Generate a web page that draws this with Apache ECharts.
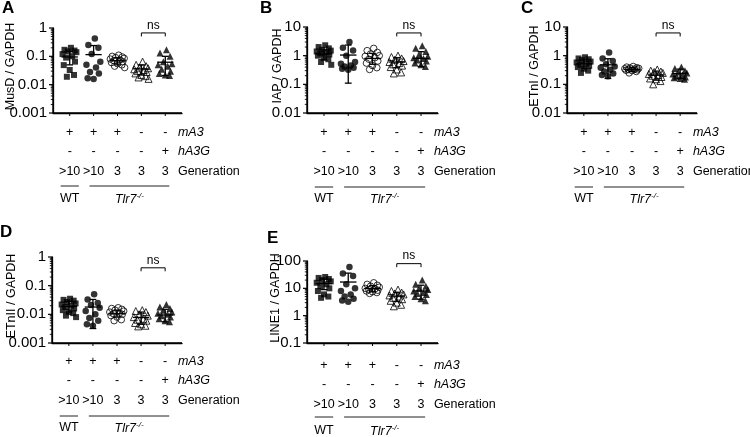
<!DOCTYPE html>
<html><head><meta charset="utf-8">
<script src="https://cdn.jsdelivr.net/npm/echarts@6/dist/echarts.min.js"></script>
<style>html,body{margin:0;padding:0;background:#fff}#c{width:750px;height:437px}</style>
</head><body><div id="c"></div>
<script>
// ---- categories / labels ----
const MA3 = ['+', '+', '+', '-', '-'];
const HA3G = ['-', '-', '-', '-', '+'];
const GENERATION = ['>10', '>10', '3', '3', '3'];
const ROW_NAMES = ['mA3', 'hA3G', 'Generation'];
const GENOTYPES = ['WT', 'Tlr7', '-/-'];
const SIG_LABEL = 'ns';
const PANEL_KEYS = ['A', 'B', 'C', 'D', 'E'];
const Y_TITLES = ['MusD / GAPDH', 'IAP / GAPDH', 'ETnI / GAPDH', 'ETnII / GAPDH', 'LINE1 / GAPDH'];

// ---- tick labels ----
const TICKS_MUSD = ['0.001', '0.01', '0.1', '1'];
const TICKS_IAP = ['0.01', '0.1', '1', '10'];
const TICKS_ETNI = ['0.01', '0.1', '1', '10'];
const TICKS_ETNII = ['0.001', '0.01', '0.1', '1'];
const TICKS_LINE1 = ['0.1', '1', '10', '100'];

// ---- values (per group: WT, Tlr7 >10, Tlr7 3, Tlr7 3, Tlr7 3 + hA3G) ----
const MUSD = [
  [0.2, 0.17, 0.16, 0.15, 0.14, 0.12, 0.1, 0.09, 0.065, 0.049, 0.033, 0.022, 0.019],
  [0.43, 0.25, 0.2, 0.12, 0.065, 0.05, 0.04, 0.028, 0.025, 0.017, 0.016],
  [0.11, 0.1, 0.095, 0.09, 0.085, 0.08, 0.075, 0.07, 0.065, 0.06, 0.055, 0.05, 0.045, 0.04],
  [0.065, 0.05, 0.045, 0.04, 0.038, 0.035, 0.033, 0.03, 0.028, 0.025, 0.022, 0.02, 0.018, 0.016],
  [0.17, 0.13, 0.1, 0.065, 0.055, 0.05, 0.045, 0.035, 0.03, 0.025, 0.022, 0.021]
];
const MUSD_MEAN = [0.095, 0.115, 0.07, 0.036, 0.062];
const MUSD_LO = [0.05, '-', 0.05, 0.022, 0.021];
const MUSD_HI = [0.15, 0.24, 0.09, 0.05, 0.1];

const IAP = [
  [2.3, 2.0, 1.8, 1.6, 1.5, 1.4, 1.3, 1.2, 1.1, 1.0, 0.9, 0.75, 0.6, 0.48],
  [3.0, 1.9, 1.5, 1.0, 0.6, 0.52, 0.45, 0.42, 0.38, 0.35, 0.32],
  [1.8, 1.5, 1.3, 1.15, 1.0, 0.95, 0.85, 0.75, 0.65, 0.55, 0.45, 0.38, 0.33],
  [1.0, 0.9, 0.8, 0.72, 0.65, 0.6, 0.55, 0.5, 0.45, 0.4, 0.33, 0.26, 0.24],
  [2.2, 1.8, 1.4, 1.1, 0.95, 0.85, 0.8, 0.7, 0.65, 0.55, 0.48, 0.42]
];
const IAP_MEAN = [1.15, 1.05, 0.8, 0.6, 0.8];
const IAP_LO = [0.7, 0.11, 0.5, 0.38, 0.42];
const IAP_HI = [1.6, 2.35, 1.2, 0.85, 1.38];

const ETNI = [
  [0.88, 0.8, 0.75, 0.7, 0.62, 0.58, 0.52, 0.48, 0.44, 0.4, 0.35, 0.3, 0.25],
  [1.3, 0.8, 0.65, 0.5, 0.42, 0.38, 0.32, 0.28, 0.24, 0.21, 0.19],
  [0.42, 0.4, 0.38, 0.37, 0.36, 0.35, 0.34, 0.33, 0.32, 0.31, 0.3, 0.28, 0.25],
  [0.33, 0.3, 0.28, 0.27, 0.25, 0.23, 0.21, 0.2, 0.18, 0.16, 0.15, 0.13, 0.1],
  [0.4, 0.36, 0.3, 0.27, 0.25, 0.23, 0.21, 0.19, 0.18, 0.17, 0.16, 0.15]
];
const ETNI_MEAN = [0.52, 0.48, 0.33, 0.21, 0.24];
const ETNI_LO = [0.35, 0.16, 0.28, 0.14, 0.16];
const ETNI_HI = [0.7, 0.78, 0.39, 0.29, 0.34];

const ETNII = [
  [0.035, 0.032, 0.03, 0.027, 0.024, 0.022, 0.02, 0.018, 0.016, 0.014, 0.012, 0.011, 0.009, 0.008],
  [0.05, 0.033, 0.025, 0.021, 0.017, 0.013, 0.01, 0.0075, 0.006, 0.0045, 0.004],
  [0.017, 0.016, 0.015, 0.014, 0.013, 0.012, 0.011, 0.0105, 0.01, 0.009, 0.008, 0.0065, 0.006],
  [0.014, 0.013, 0.012, 0.01, 0.009, 0.008, 0.007, 0.0065, 0.006, 0.005, 0.0045, 0.004, 0.0038],
  [0.022, 0.018, 0.016, 0.014, 0.012, 0.011, 0.01, 0.009, 0.008, 0.007, 0.006, 0.0055]
];
const ETNII_MEAN = [0.019, 0.018, 0.0105, 0.0078, 0.0095];
const ETNII_LO = [0.012, 0.0032, 0.008, 0.0045, 0.0055];
const ETNII_HI = [0.028, 0.033, 0.014, 0.012, 0.015];

const LINE1 = [
  [26, 24, 22, 20, 18, 16, 14, 12, 10, 8, 6, 5, 4.5],
  [60, 35, 28, 14, 10, 8, 6, 5, 4.2, 3.6, 3.2],
  [16, 14, 13, 12, 11, 10, 9.5, 9, 8.5, 8, 7.5, 7, 6.5],
  [9, 8, 7, 6.5, 6, 5.5, 5, 4.5, 4, 3.5, 3, 2.5, 2.2],
  [20, 14, 12, 10, 9, 8, 7, 6.5, 6, 5, 4.2, 3.5]
];
const LINE1_MEAN = [15, 17, 9.8, 5.2, 8];
const LINE1_LO = [9, '-', 7.5, 3.3, 4];
const LINE1_HI = [22, 36, 12.5, 7.2, 13];

// height of the "ns" bracket (axis units) per panel
const NS_LEVEL = [0.67, 6.2, 6.2, 0.42, 80];

// horizontal jitter (category units) of points within a group
const JITTER = [0.05, -0.22, 0.2, -0.08, 0.28, -0.3, 0.1, -0.15, 0.22, -0.25, 0.0, 0.18, -0.12, 0.3];

// ---- layout ----
const FONT = '"Liberation Sans", Arial, Helvetica, sans-serif';
const X_MIN = -0.7, X_MAX = 4.7;
const LAYOUT = [
  {left: 53, top: 28, width: 129, height: 85, nameGap: 36, letter: [2, 0], rows: 19.5, gLine: 73, gText: 86},
  {left: 307, top: 27, width: 131, height: 86, nameGap: 23, letter: [260, 0], rows: 19.5, gLine: 74, gText: 86},
  {left: 567, top: 27, width: 130, height: 86, nameGap: 26, letter: [521, 0], rows: 19.5, gLine: 74, gText: 86},
  {left: 52, top: 257, width: 130, height: 86, nameGap: 34, letter: [0, 224], rows: 18.5, gLine: 73, gText: 85},
  {left: 307, top: 261, width: 131, height: 82, nameGap: 25, letter: [267, 230], rows: 22.5, gLine: 74, gText: 88}
];
const SYMBOLS = ['rect', 'circle', 'circle', 'triangle', 'triangle'];
const SYMBOL_SIZE = [6, 6.5, 6.5, 7, 7];
const FILLED = [true, true, false, false, true];

const PANELS = [
  {values: MUSD, mean: MUSD_MEAN, lo: MUSD_LO, hi: MUSD_HI, ticks: TICKS_MUSD},
  {values: IAP, mean: IAP_MEAN, lo: IAP_LO, hi: IAP_HI, ticks: TICKS_IAP},
  {values: ETNI, mean: ETNI_MEAN, lo: ETNI_LO, hi: ETNI_HI, ticks: TICKS_ETNI},
  {values: ETNII, mean: ETNII_MEAN, lo: ETNII_LO, hi: ETNII_HI, ticks: TICKS_ETNII},
  {values: LINE1, mean: LINE1_MEAN, lo: LINE1_LO, hi: LINE1_HI, ticks: TICKS_LINE1}
];

const chart = echarts.init(document.getElementById('c'));
const grid = [], xAxis = [], yAxis = [], series = [], title = [];

function minorValues(ticks) {
  const out = [];
  for (let i = 0; i < ticks.length - 1; i++) {
    const d = +ticks[i];
    for (let k = 2; k <= 9; k++) out.push(d * k);
  }
  return out;
}

function renderErr(params, api) {
  const x = api.value(0), m = api.value(1), lo = api.value(2), hi = api.value(3);
  const c = api.coord([x, m]);
  const u = api.coord([x + 1, m])[0] - c[0];
  const st = {stroke: '#000', lineWidth: 1.3};
  const ch = [{type: 'line', shape: {x1: c[0] - 0.34 * u, y1: c[1], x2: c[0] + 0.34 * u, y2: c[1]}, style: st}];
  [hi, lo].forEach(v => {
    if (v == null || isNaN(v)) return;
    const y = api.coord([x, v])[1];
    ch.push({type: 'line', shape: {x1: c[0], y1: c[1], x2: c[0], y2: y}, style: st});
    ch.push({type: 'line', shape: {x1: c[0] - 0.14 * u, y1: y, x2: c[0] + 0.14 * u, y2: y}, style: st});
  });
  return {type: 'group', children: ch};
}

function makeAnno(L, P) {
  const ymin = +P.ticks[0];
  return function (params, api) {
    const bot = api.coord([0, ymin])[1];
    const cx = i => api.coord([i, ymin])[0];
    const u = cx(1) - cx(0);
    const ch = [];
    // ns bracket
    const by = api.coord([api.value(0), api.value(2)])[1];
    const x1 = cx(api.value(0)), x2 = cx(api.value(1));
    ch.push({type: 'polyline', shape: {points: [[x1, by + 3.5], [x1, by], [x2, by], [x2, by + 3.5]]},
      style: {stroke: '#000', lineWidth: 1, fill: null}});
    ch.push({type: 'text', style: {text: SIG_LABEL, x: (x1 + x2) / 2, y: by - 1.5, align: 'center', verticalAlign: 'bottom',
      font: '12px ' + FONT, fill: '#000'}});
    // row names
    ROW_NAMES.forEach((t, r) => {
      ch.push({type: 'text', style: {text: t, x: cx(4) + 0.53 * u, y: bot + L.rows + r * 19.5,
        align: 'left', verticalAlign: 'middle', fill: '#000',
        font: (r < 2 ? 'italic ' : '') + '12.5px ' + FONT}});
    });
    // genotype lines
    const ly = bot + L.gLine;
    ch.push({type: 'line', shape: {x1: cx(0) - 0.38 * u, y1: ly, x2: cx(0) + 0.38 * u, y2: ly}, style: {stroke: '#222', lineWidth: 1}});
    ch.push({type: 'line', shape: {x1: cx(1) - 0.17 * u, y1: ly, x2: cx(4) + 0.17 * u, y2: ly}, style: {stroke: '#222', lineWidth: 1}});
    const ty = bot + L.gText;
    ch.push({type: 'text', style: {text: GENOTYPES[0], x: cx(0), y: ty, align: 'center', verticalAlign: 'middle',
      font: '12.5px ' + FONT, fill: '#000'}});
    ch.push({type: 'text', style: {text: '{a|' + GENOTYPES[1] + '}{b|' + GENOTYPES[2] + '}', x: (cx(1) + cx(4)) / 2, y: ty,
      align: 'center', verticalAlign: 'middle', fill: '#000',
      rich: {a: {fontStyle: 'italic', fontSize: 12.5, fontFamily: FONT, lineHeight: 14, verticalAlign: 'bottom'},
             b: {fontStyle: 'italic', fontSize: 8, fontFamily: FONT, lineHeight: 14, verticalAlign: 'top'}}}});
    return {type: 'group', children: ch};
  };
}

PANELS.forEach((P, i) => {
  const L = LAYOUT[i];
  const ymin = +P.ticks[0], ymax = +P.ticks[P.ticks.length - 1];
  grid.push({left: L.left, top: L.top, width: L.width, height: L.height});
  title.push({text: PANEL_KEYS[i], left: L.letter[0], top: L.letter[1], padding: 0,
    textStyle: {fontSize: 17, fontWeight: 'bold', color: '#000', fontFamily: FONT}});
  xAxis.push({
    type: 'value', gridIndex: i, min: X_MIN, max: X_MAX,
    axisLine: {show: true, onZero: false, lineStyle: {color: '#000', width: 1.3}},
    axisTick: {show: false},
    axisLabel: {show: true, customValues: [0, 1, 2, 3, 4], margin: L.rows - 9.75, lineHeight: 19.5,
      fontSize: 12.5, color: '#000', fontFamily: FONT,
      formatter: v => [MA3[Math.round(v)], HA3G[Math.round(v)], GENERATION[Math.round(v)]].join('\n')},
    splitLine: {show: false}
  });
  yAxis.push({
    type: 'log', gridIndex: i, min: ymin, max: ymax,
    axisLine: {show: true, onZero: false, lineStyle: {color: '#000', width: 1.3}},
    axisTick: {show: false},
    axisLabel: {fontSize: 15, color: '#000', fontFamily: FONT, margin: 6,
      formatter: v => { const t = P.ticks.find(s => Math.abs(Math.log10(+s) - Math.log10(v)) < 1e-6); return t || ''; }},
    splitLine: {show: false},
    name: Y_TITLES[i], nameLocation: 'middle', nameGap: L.nameGap, nameMoveOverlap: false,
    nameTextStyle: {fontSize: 12.5, color: '#000', fontFamily: FONT, padding: [0, 0, 0, 8]}
  });
  P.values.forEach((vals, g) => {
    series.push({
      type: 'scatter', xAxisIndex: i, yAxisIndex: i, silent: true,
      symbol: SYMBOLS[g], symbolSize: SYMBOL_SIZE[g],
      itemStyle: FILLED[g] ? {color: '#000'} : {color: 'rgba(255,255,255,0)', borderColor: '#000', borderWidth: 1},
      data: vals.map((v, k) => [g + JITTER[k % JITTER.length], v]),
      z: 2
    });
  });
  series.push({
    type: 'custom', xAxisIndex: i, yAxisIndex: i, silent: true, z: 3,
    encode: {x: 0, y: 1},
    data: P.mean.map((m, g) => [g, m, P.lo[g], P.hi[g]]),
    renderItem: renderErr
  });
  series.push({
    type: 'custom', xAxisIndex: i, yAxisIndex: i, silent: true, z: 3, clip: false,
    encode: {x: 0, y: 2},
    data: [[3, 4, NS_LEVEL[i]]],
    renderItem: makeAnno(L, P)
  });
});

chart.setOption({animation: false, backgroundColor: '#fff', title, grid, xAxis, yAxis, series});

// axis lines and ticks placed through the axes' own scales
const axisEls = [];
PANELS.forEach((P, i) => {
  const ymin = +P.ticks[0], ymax = +P.ticks[P.ticks.length - 1];
  const px = v => chart.convertToPixel({gridIndex: i}, v);
  const p0 = px([X_MIN, ymin]), p1 = px([X_MAX, ymax]);
  const x0 = p0[0], bot = p0[1];
  const line = (a, b, c, d, w) => axisEls.push({type: 'line', z: 100, silent: true,
    shape: {x1: a, y1: b, x2: c, y2: d}, style: {stroke: '#000', lineWidth: w}});
  line(x0, p1[1], x0, bot, 1.4);
  line(x0, bot, p1[0], bot, 1.4);
  P.ticks.forEach(t => { const y = px([X_MIN, +t])[1]; line(x0 - 4, y, x0, y, 1.2); });
  minorValues(P.ticks).forEach(t => { const y = px([X_MIN, t])[1]; line(x0 - 2.2, y, x0, y, 0.9); });
  MA3.forEach((_, k) => { const x = px([k, ymin])[0]; line(x, bot, x, bot + 3, 1); });
});
chart.setOption({graphic: {elements: axisEls}});
</script></body></html>
